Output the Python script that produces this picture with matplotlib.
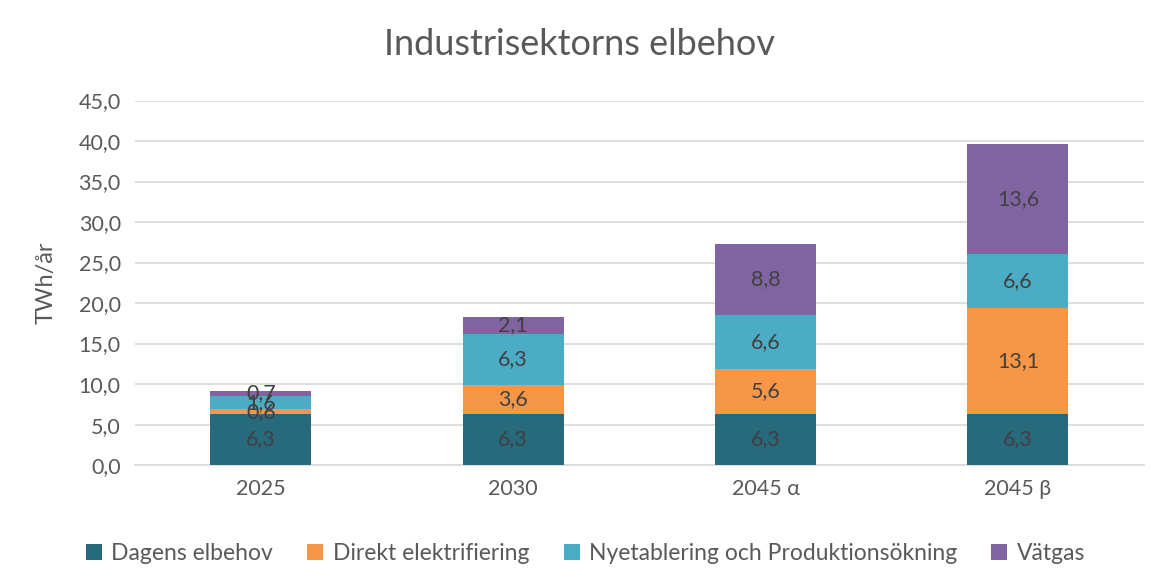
import matplotlib
matplotlib.use("Agg")
import matplotlib.pyplot as plt
import numpy as np

categories = ["2025", "2030", "2045 α", "2045 β"]
series_names = ["Dagens elbehov", "Direkt elektrifiering", "Nyetablering och Produktionsökning", "Vätgas"]
dagens = [6.3, 6.3, 6.3, 6.3]
direkt = [0.6, 3.6, 5.6, 13.1]
nyetablering = [1.6, 6.3, 6.6, 6.6]
vatgas = [0.7, 2.1, 8.8, 13.6]
yticks = np.arange(0, 45.1, 5)

colors = ["#276A7C", "#F79646", "#4BACC6", "#8064A2"]
text_color = "#595959"
plt.rcParams['font.family'] = ['Lato', 'DejaVu Sans']

fig = plt.figure(figsize=(11.71, 5.88), dpi=100)
ax = fig.add_axes([0.115, 0.209, 0.862, 0.62])

x = np.arange(len(categories))
bottom = np.zeros(len(categories))
for name, vals, c in zip(series_names, [dagens, direkt, nyetablering, vatgas], colors):
    vals = np.array(vals)
    bars = ax.bar(x, vals, width=0.4, bottom=bottom, color=c, label=name, zorder=3)
    for xi, b, v in zip(x, bottom, vals):
        ax.text(xi, b + v / 2, f"{v:.1f}".replace(".", ","), ha="center", va="center",
                fontsize=15.5, color="#404040", zorder=4)
    bottom += vals

ax.set_ylim(0, 45)
ax.set_xlim(-0.5, 3.5)
ax.set_yticks(yticks)
ax.set_yticklabels([f"{t:.1f}".replace(".", ",") for t in yticks], fontsize=15.5, color=text_color)
ax.set_xticks(x)
ax.set_xticklabels(categories, fontsize=15.5, color=text_color)
ax.tick_params(axis="both", length=0, pad=10)
ax.grid(axis="y", color="#D9D9D9", linewidth=1.2, zorder=0)
for s in ["top", "right", "left"]:
    ax.spines[s].set_visible(False)
ax.spines["bottom"].set_color("#D9D9D9")
ax.spines["bottom"].set_linewidth(1.2)
ax.set_ylabel("TWh/år", fontsize=17, color=text_color, labelpad=16)

fig.text(0.495, 0.925, "Industrisektorns elbehov", ha="center", va="center", fontsize=26, color=text_color)

fig.legend(loc="center", bbox_to_anchor=(0.50, 0.058), ncol=4, frameon=False, fontsize=16.5,
           handlelength=0.7, handleheight=0.7, handletextpad=0.4, columnspacing=1.5,
           labelcolor=text_color)

fig.savefig("out.png", dpi=100)
